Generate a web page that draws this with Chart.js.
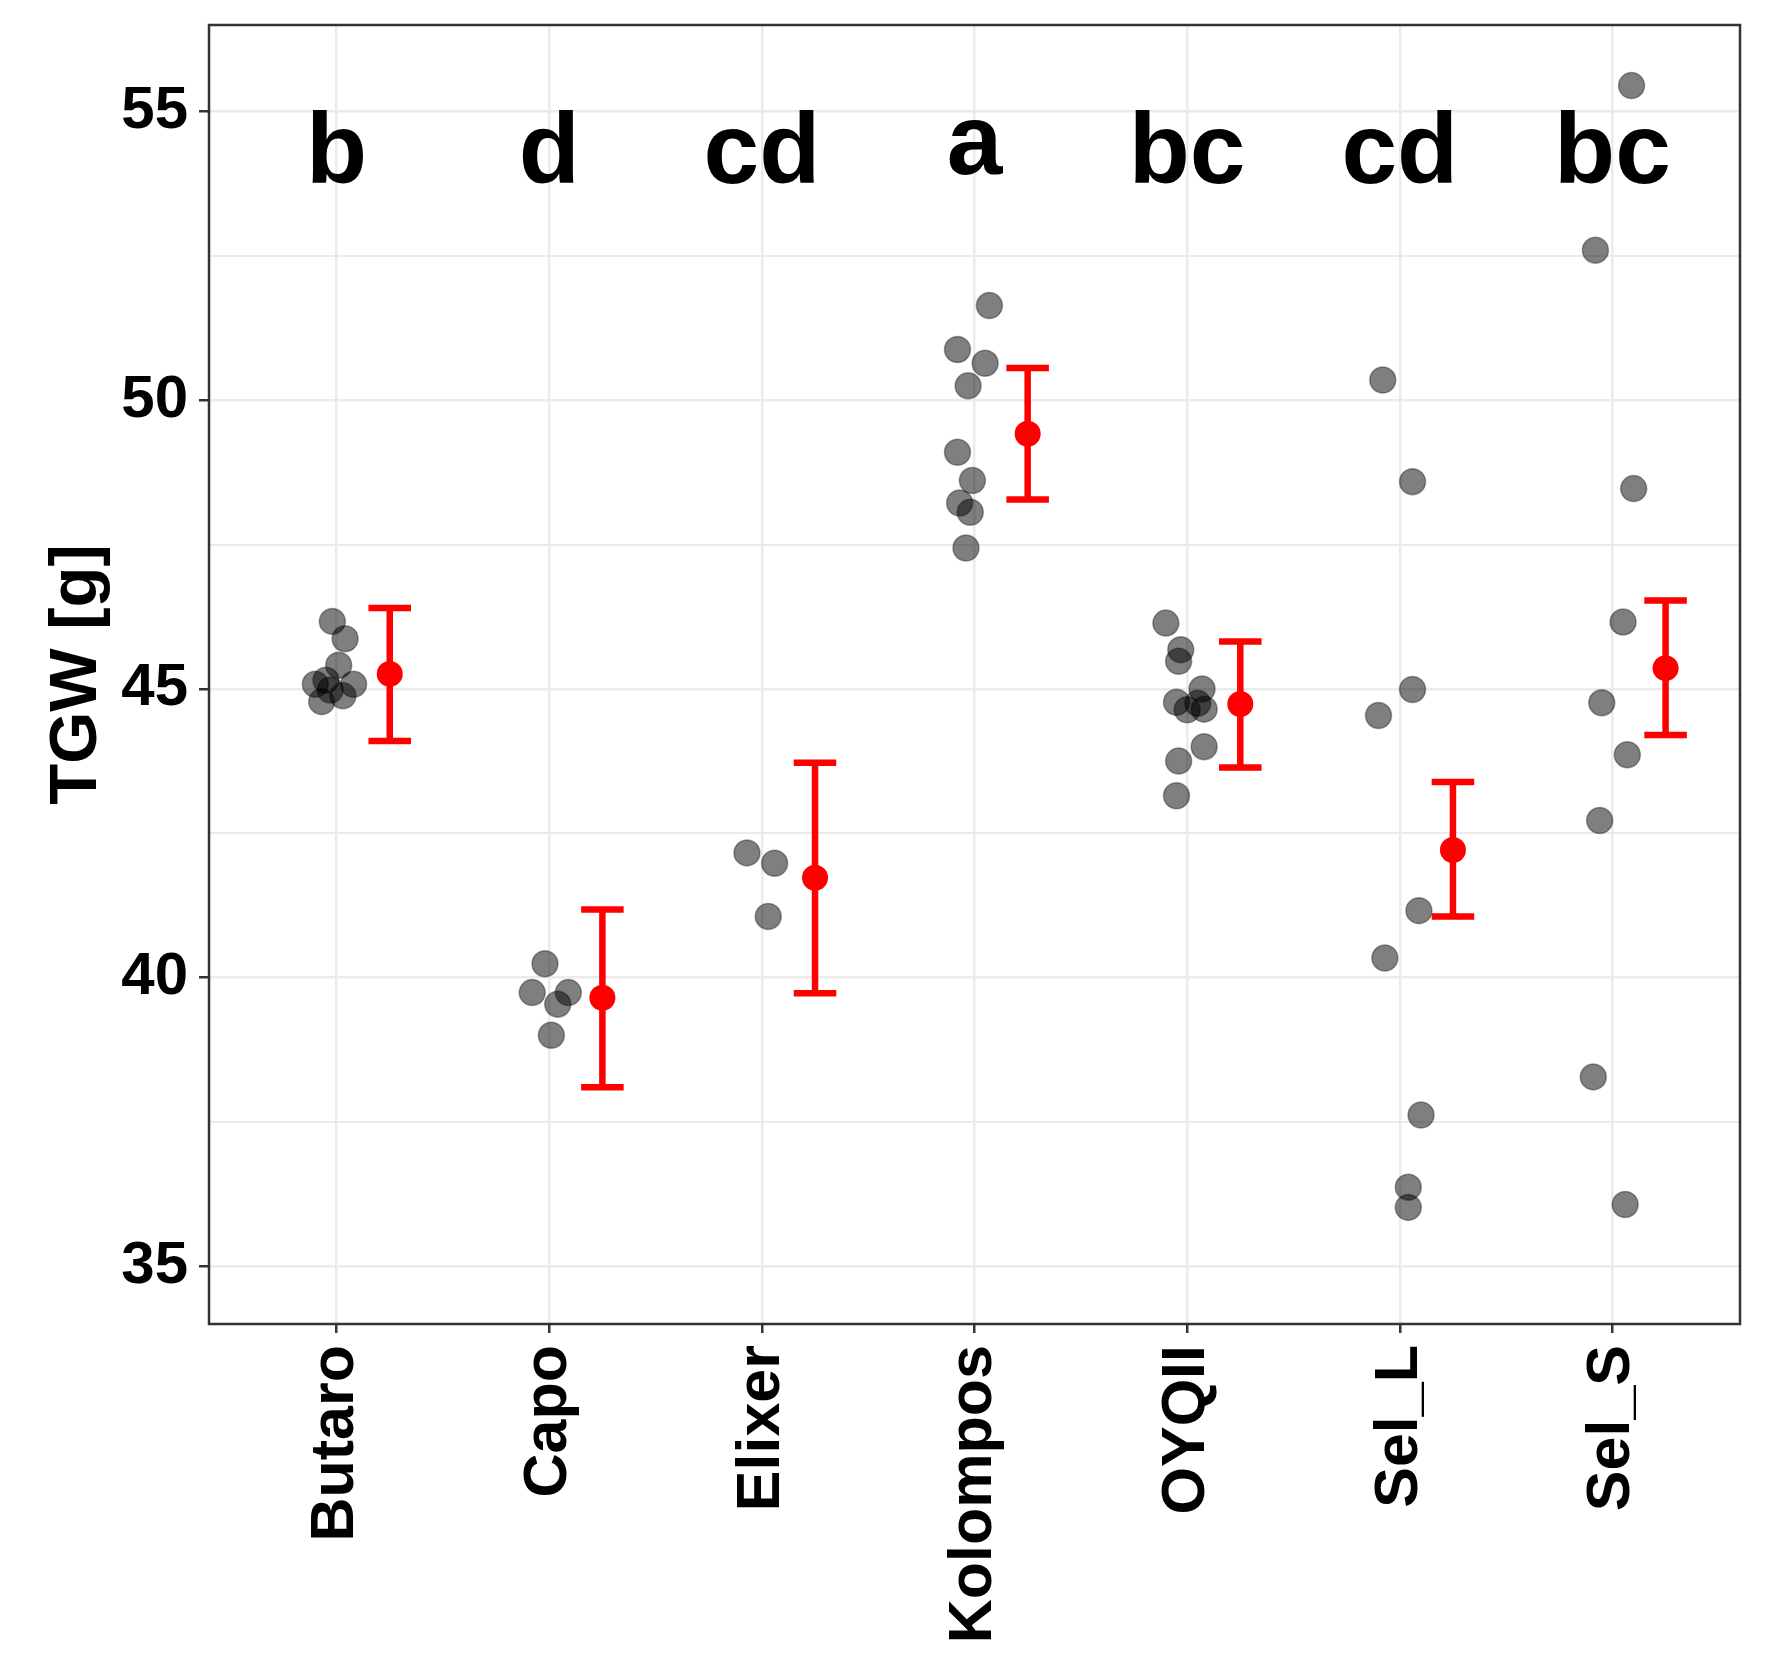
<!DOCTYPE html>
<html>
<head>
<meta charset="utf-8">
<title>TGW by cultivar</title>
<script src="https://cdn.jsdelivr.net/npm/chart.js@4.4.0/dist/chart.umd.min.js"></script>
<style>
  body { margin: 0; background: #fff; }
  #wrap { width: 1772px; height: 1676px; }
</style>
</head>
<body>
<div id="wrap"><canvas id="tgwChart" width="1772" height="1676"></canvas></div>
<script>
// categories + letters of the post-hoc groups
const cultivars = ['Butaro', 'Capo', 'Elixer', 'Kolompos', 'OYQII', 'Sel_L', 'Sel_S'];
const groupLetters = ['b', 'd', 'cd', 'a', 'bc', 'cd', 'bc'];

// single TGW values [g] and their jitter (in category units)
const butaroTGW = [46.17, 45.87, 45.41, 45.08, 45.08, 45.15, 44.98, 44.78, 44.88];
const butaroJit = [-0.02, 0.04, 0.01, 0.08, -0.10, -0.05, -0.03, -0.07, 0.03];
const capoTGW = [40.24, 39.74, 39.74, 39.54, 39.0];
const capoJit = [-0.02, -0.08, 0.09, 0.04, 0.01];
const elixerTGW = [42.16, 41.98, 41.06];
const elixerJit = [-0.07, 0.06, 0.03];
const kolomposTGW = [51.64, 50.88, 50.64, 50.25, 49.10, 48.61, 48.22, 48.06, 47.44];
const kolomposJit = [0.07, -0.08, 0.05, -0.03, -0.08, -0.01, -0.07, -0.02, -0.04];
const oyqiiTGW = [46.14, 45.68, 45.48, 45.0, 44.77, 44.64, 44.65, 44.75, 44.0, 43.75, 43.15];
const oyqiiJit = [-0.10, -0.03, -0.04, 0.07, -0.05, 0.0, 0.08, 0.05, 0.08, -0.04, -0.05];
const selLTGW = [50.35, 48.59, 44.99, 44.54, 41.16, 40.34, 37.62, 36.37, 36.02];
const selLJit = [-0.08, 0.06, 0.06, -0.10, 0.09, -0.07, 0.10, 0.04, 0.04];
const selSTGW = [55.45, 52.6, 48.47, 46.16, 44.76, 43.86, 42.72, 38.28, 36.07];
const selSJit = [0.09, -0.08, 0.10, 0.05, -0.05, 0.07, -0.06, -0.09, 0.06];

// mean and error bar ends per cultivar
const meanTGW = [45.26, 39.65, 41.73, 49.42, 44.74, 42.21, 45.36];
const lowerTGW = [44.10, 38.10, 39.73, 48.28, 43.64, 41.06, 44.20];
const upperTGW = [46.40, 41.18, 43.72, 50.56, 45.82, 43.39, 46.53];

// y axis
const yTickLabels = [35, 40, 45, 50, 55];
const yMinorLines = [37.5, 42.5, 47.5, 52.5];

const rawValues = [butaroTGW, capoTGW, elixerTGW, kolomposTGW, oyqiiTGW, selLTGW, selSTGW];
const rawJitter = [butaroJit, capoJit, elixerJit, kolomposJit, oyqiiJit, selLJit, selSJit];

const FONT = '"Liberation Sans", Arial, Helvetica, sans-serif';
const dodge = 0.25;     // mean sits right of the raw points
const capHalf = 0.1;

const rawPoints = [];
rawValues.forEach((vals, i) => {
  vals.forEach((v, k) => rawPoints.push({x: i + 1 + rawJitter[i][k], y: v}));
});

const meanPoints = meanTGW.map((m, i) => ({x: i + 1 + dodge, y: m}));

const errPoints = [];
cultivars.forEach((c, i) => {
  const xc = i + 1 + dodge;
  errPoints.push({x: xc, y: lowerTGW[i]}, {x: xc, y: upperTGW[i]}, {x: xc, y: null});
  errPoints.push({x: xc - capHalf, y: upperTGW[i]}, {x: xc + capHalf, y: upperTGW[i]}, {x: xc, y: null});
  errPoints.push({x: xc - capHalf, y: lowerTGW[i]}, {x: xc + capHalf, y: lowerTGW[i]}, {x: xc, y: null});
});

// letters are centred on their ink box, like ggplot's vjust = 0.5
const letterPlugin = {
  id: 'groupLetters',
  afterDatasetsDraw(chart) {
    const {ctx, scales: {x, y}} = chart;
    ctx.save();
    ctx.font = 'bold 100px ' + FONT;
    ctx.fillStyle = '#000';
    ctx.textAlign = 'center';
    ctx.textBaseline = 'alphabetic';
    const yc = y.getPixelForValue(54.38);
    groupLetters.forEach((txt, i) => {
      const m = ctx.measureText(txt);
      const base = yc + (m.actualBoundingBoxAscent - m.actualBoundingBoxDescent) / 2;
      ctx.fillText(txt, x.getPixelForValue(i + 1), base);
    });
    ctx.restore();
  }
};

const framePlugin = {
  id: 'panelFrame',
  afterDraw(chart) {
    const {ctx, chartArea: a} = chart;
    ctx.save();
    ctx.strokeStyle = '#333';
    ctx.lineWidth = 2.5;
    ctx.strokeRect(a.left, a.top, a.right - a.left, a.bottom - a.top);
    ctx.restore();
  }
};

const isMajor = (ctx) => ctx.tick && yTickLabels.includes(ctx.tick.value);

new Chart(document.getElementById('tgwChart'), {
  type: 'scatter',
  data: {
    datasets: [
      {
        label: 'TGW',
        data: rawPoints,
        pointRadius: 13,
        pointBackgroundColor: 'rgba(0,0,0,0.5)',
        pointBorderColor: 'rgba(0,0,0,0.35)',
        pointBorderWidth: 1.5
      },
      {
        label: 'mean',
        data: meanPoints,
        pointRadius: 13,
        pointBackgroundColor: '#ff0000',
        pointBorderColor: '#ff0000',
        pointBorderWidth: 0
      },
      {
        label: 'error',
        data: errPoints,
        showLine: true,
        spanGaps: false,
        pointRadius: 0,
        borderColor: '#ff0000',
        borderWidth: 6.5,
        borderCapStyle: 'butt'
      }
    ]
  },
  options: {
    responsive: false,
    animation: false,
    layout: {padding: {top: 25, right: 32, left: 0, bottom: 0}},
    plugins: {legend: {display: false}, tooltip: {enabled: false}},
    scales: {
      x: {
        type: 'linear',
        position: 'bottom',
        min: 0.4,
        max: 7.6,
        afterBuildTicks: (scale) => { scale.ticks = cultivars.map((c, i) => ({value: i + 1})); },
        afterFit: (scale) => {
          scale.height = 352;
          scale.paddingLeft = 0;
          scale.paddingRight = 0;
        },
        border: {display: false},
        grid: {color: '#ebebeb', lineWidth: 2.5, tickLength: 9, tickColor: '#333', tickWidth: 2.5},
        ticks: {
          autoSkip: false,
          minRotation: 90,
          maxRotation: 90,
          padding: 12,
          color: '#000',
          font: {family: FONT, size: 61, weight: 'bold'},
          callback: (v) => cultivars[Math.round(v) - 1]
        }
      },
      y: {
        min: 34.0,
        max: 56.5,
        afterBuildTicks: (scale) => {
          scale.ticks = yTickLabels.concat(yMinorLines).sort((a, b) => a - b).map(v => ({value: v}));
        },
        afterFit: (scale) => {
          scale.width = 209;
          scale.paddingTop = 0;
          scale.paddingBottom = 0;
        },
        border: {display: false},
        grid: {
          color: '#ebebeb',
          lineWidth: (ctx) => isMajor(ctx) ? 2.5 : 2,
          tickLength: 10,
          tickColor: (ctx) => isMajor(ctx) ? '#333' : 'rgba(0,0,0,0)',
          tickWidth: 2.5
        },
        ticks: {
          padding: 11,
          color: '#000',
          font: {family: FONT, size: 60, weight: 'bold'},
          callback: (v) => yTickLabels.includes(v) ? String(v) : ''
        },
        title: {
          display: true,
          text: 'TGW [g]',
          color: '#000',
          font: {family: FONT, size: 67, weight: 'bold'},
          padding: {top: 37, bottom: 0}
        }
      }
    }
  },
  plugins: [letterPlugin, framePlugin]
});
</script>
</body>
</html>
